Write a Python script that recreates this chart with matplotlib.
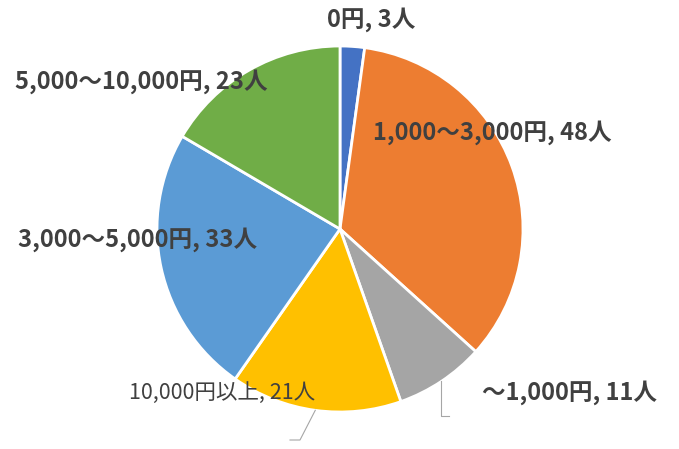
import numpy as np
import matplotlib.pyplot as plt

plt.rcParams['font.family'] = ['Noto Sans CJK JP', 'DejaVu Sans']

labels = ['0円', '1,000～3,000円', '～1,000円', '10,000円以上', '3,000～5,000円', '5,000～10,000円']
counts = [3, 48, 11, 21, 33, 23]
colors = ['#4472C4', '#ED7D31', '#A5A5A5', '#FFC000', '#5B9BD5', '#70AD47']

W, H = 679, 449
fig = plt.figure(figsize=(W / 100, H / 100), dpi=100)
ax = fig.add_axes([0, 0, 1, 1])

cx, cy, r = 340, H - 229, 183
wedges, _ = ax.pie(counts, colors=colors, startangle=90, counterclock=False,
                   center=(cx, cy), radius=r, frame=True,
                   wedgeprops=dict(edgecolor='white', linewidth=2))
ax.set_xlim(0, W)
ax.set_ylim(0, H)
ax.set_aspect('equal')
ax.axis('off')

# label positions (pixel, top-left origin)
pos = [(371, 20), (492, 133), (570, 393), (222, 393), (138, 240), (141, 82)]
txtcol = '#404040'
for i, (lab, n) in enumerate(zip(labels, counts)):
    x, y = pos[i]
    small = (i == 3)
    ax.text(x, H - y, f'{lab}, {n}人', ha='center', va='center',
            fontsize=15.5 if small else 17, fontweight='normal' if small else 'bold',
            color=txtcol)

# leader lines from wedge rim midpoints
def rim(w):
    a = np.deg2rad((w.theta1 + w.theta2) / 2)
    return cx + r * np.cos(a), cy + r * np.sin(a)

x0, y0 = rim(wedges[2])
ax.plot([x0, x0, x0 + 8], [y0, H - 416, H - 416], color='#A6A6A6', lw=0.8)
x0, y0 = rim(wedges[3])
ax.plot([x0, 300, 290], [y0, H - 440, H - 440], color='#A6A6A6', lw=0.8)

fig.savefig('out.png', dpi=100)
